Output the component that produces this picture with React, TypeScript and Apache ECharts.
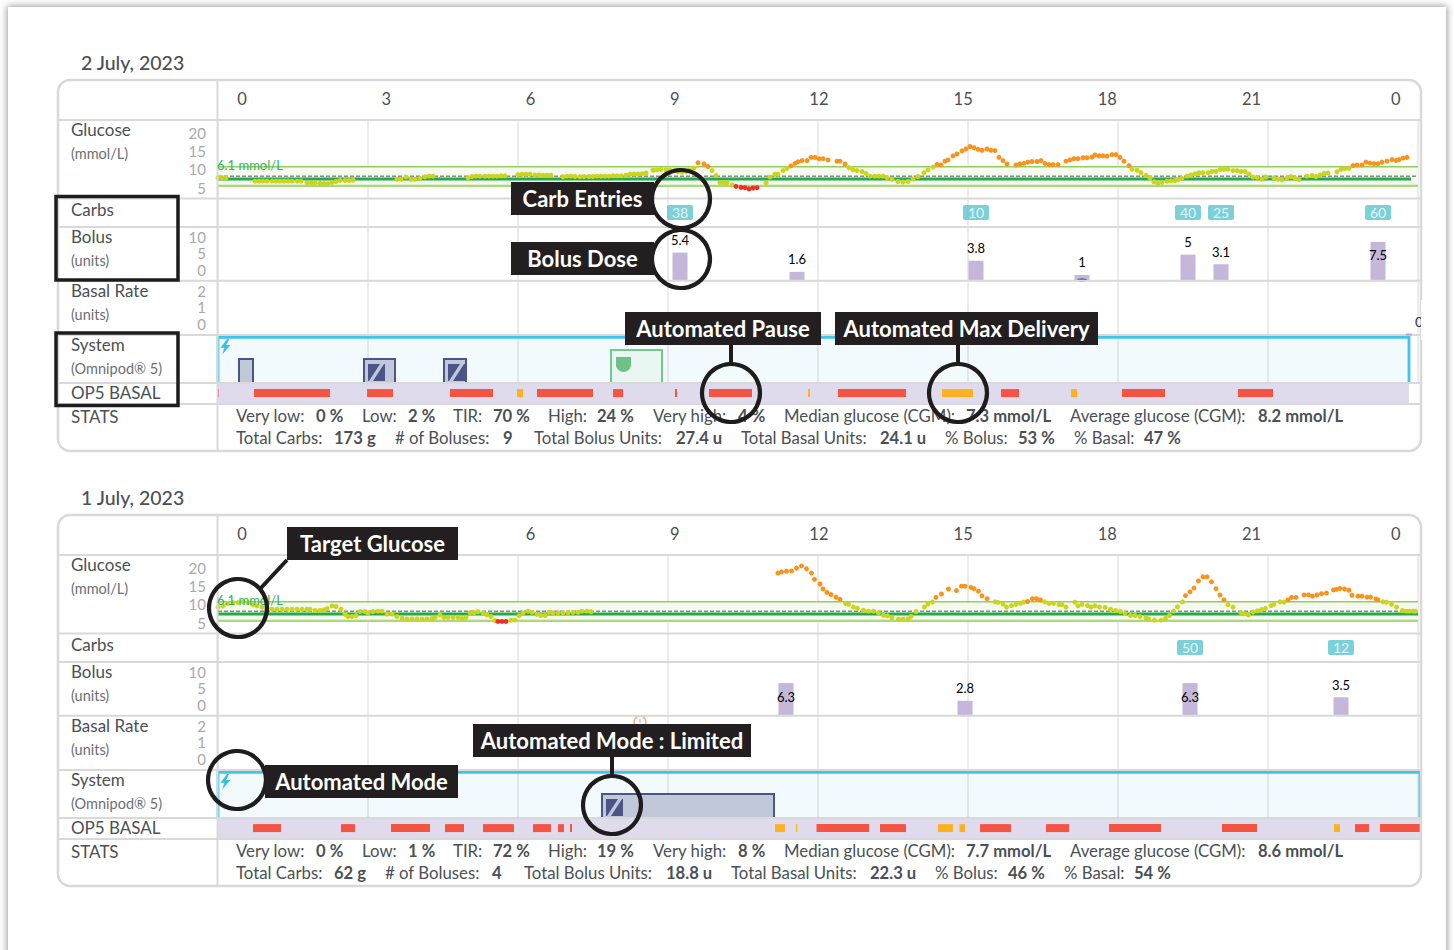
import React, { useEffect, useRef } from "react";
import * as echarts from "echarts";

const FONT = "Lato";
const hourTicksDay2 = ["0", "3", "6", "9", "12", "15", "18", "21", "0"];
const hourTicksDay1 = ["0", "", "6", "9", "12", "15", "18", "21", "0"];
const titles = ["2 July, 2023", "1 July, 2023"];
const glucoseTicks = [5, 10, 15, 20];
const targetHigh = 10;
const targetLow = 3.9;
const targetValue = 6.1;
const dashedValue = 7.0;
const targetLabel = "6.1 mmol/L";

const glucoseDay2: number[][] = [
  [0,6.5],[.08,6.5],[.16,6.5],[.74,5.4],[.82,5.4],[.9,5.4],[.98,5.4],[1.08,5.4],[1.16,5.4],[1.24,5.4],[1.32,5.4],[1.4,5.4],[1.48,5.4],[1.58,5.4],[1.66,5.4],
  [1.78,4.9],[1.86,4.9],[1.94,4.9],[2.04,4.7],[2.12,4.6],[2.2,4.6],[2.28,5],[2.36,5.3],[2.44,5.6],[2.54,5.6],[2.62,5.6],[2.7,5.7],
  [3.58,6],[3.66,6],[3.76,6.7],[3.86,6],[3.94,6],[4.04,6.3],[4.14,6.8],[4.22,7],[4.3,7],
  [5,6.5],[5.08,6.9],[5.16,7],[5.24,7],[5.34,7],[5.42,7],[5.5,7],[5.58,7],[5.66,7.1],[5.74,7.1],
  [6,7.5],[6.08,7.6],[6.16,7.6],[6.24,7.6],[6.34,7.4],[6.42,7.4],[6.5,7.3],[6.58,7.3],[6.66,7.3],
  [6.9,6.8],[6.98,7],[7.06,7],[7.14,6.9],[7.24,6.8],[7.32,6.9],[7.42,6.9],[7.5,6.9],[7.58,7],[7.66,7],[7.74,7],[7.82,7],[7.9,7.1],[7.98,7.1],[8.06,7.1],[8.16,7.3],[8.24,7.6],[8.32,7.7],[8.4,7.7],[8.48,7.8],[8.56,8],
  [8.7,8.9],[8.78,9],[8.86,9.1],[8.96,9],[9.04,8.9],[9.12,8.7],[9.2,8.5],[9.28,8.3],[9.36,8.5],[9.44,8.9],[9.52,9.6],[9.6,11.3],[9.72,10.9],[9.8,10.1],[9.88,8.8],[9.96,7.2],
  [10.04,4.9],[10.12,4.9],[10.18,4.9],[10.28,4.2],[10.36,3.7],[10.46,3.4],[10.54,3.3],[10.62,2.9],[10.7,3.2],[10.78,3.3],[10.96,4.9],[11.04,6.7],[11.14,7.6],[11.2,7.6],[11.3,8.8],[11.38,9.5],[11.46,10.3],[11.54,11.1],[11.6,11.6],[11.68,12],[11.78,12],[11.86,13],[11.94,13],
  [12.02,12.6],[12.1,12.6],[12.2,12.2],[12.38,11.8],[12.44,11.8],[12.54,10.9],[12.62,9.7],[12.7,9],[12.78,8.8],[12.88,8.5],[12.96,7.9],[13.04,7],[13.14,7],[13.22,7],[13.3,7],[13.38,6.5],[13.48,6],[13.6,5.3],[13.7,5.1],[13.8,5.3],[13.9,6.1],
  [14,6.9],[14.12,8.1],[14.2,9],[14.3,9.9],[14.38,10.8],[14.46,10.6],[14.54,11.8],[14.6,12.2],[14.7,13.5],[14.78,14.1],[14.88,15.1],[14.96,15.7],[15.04,16.5],[15.12,16.1],[15.2,15.6],[15.28,15.3],[15.38,15.7],[15.46,15.3],[15.54,15.2],[15.62,13],[15.7,12],[15.78,10.9],
  [15.96,10.6],[16.04,10.9],[16.12,11.1],[16.2,11.5],[16.28,11.7],[16.38,11.7],[16.46,12],[16.54,11.1],[16.62,10.7],[16.7,10.7],[16.8,10.7],[16.96,11.8],[17.04,12.2],[17.12,12.6],[17.2,12.6],[17.3,12.9],[17.38,12.9],[17.48,13.1],[17.54,13.8],[17.62,13.5],[17.7,13.5],[17.78,13.4],[17.88,13.9],[17.96,13.9],
  [18.04,13],[18.12,11.8],[18.22,10.4],[18.28,9.2],[18.38,8.9],[18.46,8.1],[18.56,7.2],[18.64,6.4],[18.72,5.2],[18.8,4.7],[18.88,5],[18.98,5.4],[19.06,5.5],[19.14,5.6],[19.2,5.8],[19.28,6.3],[19.38,7],[19.46,7.4],[19.54,7.8],[19.62,8.1],[19.7,8.1],[19.8,8.1],[19.88,8.5],[19.96,8.5],
  [20.04,9.1],[20.12,9.2],[20.2,9.2],[20.3,8.8],[20.38,8.8],[20.46,8.5],[20.54,8.5],[20.62,7.7],[20.7,6.7],[20.78,6.6],[20.88,6],[20.96,6.7],[21.12,6.4],[21.2,6],[21.28,5.8],[21.38,6.4],[21.46,6.8],[21.54,6.3],[21.62,5.9],[21.78,7],[21.88,7.2],[21.96,6.9],
  [22.04,7.4],[22.12,7.9],[22.2,8],[22.38,8.4],[22.46,9.2],[22.54,9.4],[22.62,9.5],[22.7,10.4],[22.78,10.6],[22.88,10.6],[22.96,11.5],[23.04,11.2],[23.12,11],[23.2,11],[23.28,11.5],[23.38,11.8],[23.48,12.3],[23.56,12],[23.62,12.3],[23.7,12.8],[23.78,13],
];

const glucoseDay1: number[][] = [
  [0,8.3],[.1,8.7],[.2,9.5],[.3,9.75],[.4,9.75],[.5,10],[.6,9.75],[.7,9],[.78,8.7],[.88,8.3],[.98,8],[1.08,7.6],[1.18,7.6],[1.28,7.6],[1.38,7.6],[1.48,7.6],[1.58,7.6],[1.68,7.6],[1.78,7.6],[1.84,7.6],[1.94,7.2],[2.04,7.2],[2.12,7.4],[2.18,7.8],[2.28,8.7],[2.36,8.5],[2.46,7.6],[2.54,6],[2.6,5.3],[2.68,5.3],[2.76,5.6],[2.84,6.9],[2.94,6.9],
  [3,6.4],[3.1,6.9],[3.2,7],[3.28,7],[3.38,6.1],[3.48,6.1],[3.58,5.3],[3.68,4.7],[3.78,4.5],[3.88,4.5],[3.98,4.5],[4.08,4.5],[4.18,4.5],[4.28,4.6],[4.34,5],[4.44,5.8],[4.52,5],[4.6,5],[4.7,5],[4.8,5],[4.88,4.6],[4.96,5],
  [5.04,6.5],[5.12,6.5],[5.2,6.8],[5.3,6.4],[5.38,5.8],[5.46,5.3],[5.54,4],[5.6,3.7],[5.68,3.7],[5.76,3.7],[5.86,4.1],[5.94,4.1],[6.02,5.5],[6.1,6.4],[6.2,7],[6.28,6.6],[6.38,6],[6.46,5.6],[6.54,5.6],[6.62,6.6],[6.7,6.4],[6.8,6.4],[6.9,6.4],[7,6.5],[7.1,6.6],[7.2,6.6],[7.28,7],[7.38,7],[7.46,6.8],
  [11.2,19.2],[11.27,19.6],[11.37,19.8],[11.47,19.9],[11.57,20.8],[11.67,21.5],[11.77,20.6],[11.87,19.2],[11.93,17.2],[12.04,15.7],[12.1,14.1],[12.18,13],[12.26,12.3],[12.36,11.5],[12.44,10.8],[12.55,9.5],[12.61,9.2],[12.71,8.3],[12.79,7.9],[12.91,7.3],
  [13.01,7],[13.11,7],[13.21,6.4],[13.31,5.7],[13.39,5.5],[13.48,4.9],[13.61,4.4],[13.7,4.4],[13.8,4.5],[13.86,5.3],[13.96,6.9],[14.13,8.3],[14.2,9.3],[14.29,9.9],[14.36,11.4],[14.47,12.5],[14.61,14.1],[14.77,13.6],[14.87,15],[14.94,15],
  [15.06,14.6],[15.12,14.2],[15.21,13.4],[15.28,11.9],[15.38,11],[15.54,10],[15.6,9.8],[15.7,9.3],[15.77,8.3],[15.87,8.8],[15.96,9.2],[16.05,9.5],[16.11,9.9],[16.19,10.1],[16.29,11],[16.37,11],[16.45,10.6],[16.53,10],[16.62,9.5],[16.71,9.5],[16.82,9.1],[16.88,9.1],
  [16.96,8.3],[17.14,9.9],[17.2,8.7],[17.28,9.2],[17.39,8.8],[17.46,8.3],[17.54,8.7],[17.63,8.3],[17.74,8.2],[17.85,7.6],[17.95,7.2],[18.05,6.9],[18.14,6.3],[18.25,5.6],[18.34,5.6],[18.44,5.3],[18.56,4.8],[18.61,4.5],[18.73,4.1],[18.86,4.1],
  [18.95,4.7],[19.03,5.6],[19.11,7],[19.19,8.4],[19.29,10],[19.35,12],[19.44,13.2],[19.52,14.4],[19.61,16.7],[19.7,18],[19.78,18],[19.87,16.4],[19.96,14.2],[20.04,12.2],[20.12,10.6],[20.2,9.1],[20.3,8.3],[20.46,6.4],[20.53,6.2],[20.61,5.8],[20.7,6.7],[20.79,7.1],
  [20.87,7.5],[20.95,7.9],[21.06,8.8],[21.12,9.2],[21.24,10],[21.32,9.9],[21.4,10.6],[21.47,11.4],[21.56,11.4],[21.72,12.2],[21.81,12.2],[21.89,11.8],[21.98,12.2],[22.07,12.6],[22.17,12.8],[22.31,13.8],[22.37,14],[22.44,14.3],[22.53,14.1],[22.62,13.7],[22.68,12.1],[22.8,11.8],
  [22.88,11.8],[22.98,11.5],[23.05,11.5],[23.16,10.9],[23.2,10.6],[23.3,10],[23.37,9.9],[23.47,9.2],[23.57,8.3],[23.69,7.2],[23.77,7],[23.83,7],[23.9,7],[23.95,7],
];

const carbsDay2 = [[9.24,38],[15.16,10],[19.4,40],[20.06,25],[23.2,60]];
const carbsDay1 = [[19.44,50],[22.46,12]];
const bolusDay2 = [[9.24,5.4],[11.58,1.6],[15.16,3.8],[17.28,1],[19.4,5],[20.06,3.1],[23.2,7.5]];
const bolusDay1 = [[11.36,6.3],[14.94,2.8],[19.44,6.3],[22.46,3.5]];
const bolusTicks = [0, 5, 10];
const basalTicks = [0, 1, 2];

const automatedDay2 = [[0,23.82,.95]];
const automatedDay1 = [[0,24.04,.95]];
const limitedDay2 = [[.42,.7,.5,0],[2.92,3.54,.5,1],[4.52,4.96,.5,1]];
const limitedDay1 = [[7.68,11.12,.5,1]];
const pauseDay2 = [[7.86,8.88,.69]];
const op5Day2 = [[0,23.82,1]];
const op5Day1 = [[0,24.04,1]];
const redDay2 = [[0,.02],[.72,2.24],[2.98,3.5],[4.64,5.5],[6.38,7.5],[7.9,8.1],[9.14,9.18],[9.82,10.68],[12.4,13.76],[15.66,16.02],[18.08,18.94],[20.4,21.1]];
const amberDay2 = [[5.98,6.1],[11.8,11.84],[14.48,15.1],[17.06,17.18]];
const redDay1 = [[.7,1.26],[2.46,2.74],[3.46,4.24],[4.54,4.92],[5.3,5.92],[6.3,6.66],[6.8,6.92],[7.04,7.08],[11.97,13.02],[13.24,13.76],[15.24,15.86],[16.56,17.02],[17.82,18.86],[20.08,20.78],[22.74,23.02],[23.24,24.04]];
const amberDay1 = [[11.14,11.34],[11.56,11.58],[14.4,14.7],[14.83,14.94],[22.32,22.44]];

const rowLabels = [
  ["Glucose", 129, 0], ["(mmol/L)", 153, 1], ["Carbs", 209, 0], ["Bolus", 236, 0], ["(units)", 260, 1],
  ["Basal Rate", 290, 0], ["(units)", 314, 1], ["System", 344, 0], ["(Omnipod® 5)", 368, 1], ["OP5 BASAL", 392, 0], ["STATS", 416, 0],
];

const statsRow1Labels = ["Very low:", "Low:", "TIR:", "High:", "Very high:", "Median glucose (CGM):", "Average glucose (CGM):"];
const statsRow1Day2 = ["0 %", "2 %", "70 %", "24 %", "4 %", "7.3 mmol/L", "8.2 mmol/L"];
const statsRow1Day1 = ["0 %", "1 %", "72 %", "19 %", "8 %", "7.7 mmol/L", "8.6 mmol/L"];
const statsRow2Labels = ["Total Carbs:", "# of Boluses:", "Total Bolus Units:", "Total Basal Units:", "% Bolus:", "% Basal:"];
const statsRow2Day2 = ["173 g", "9", "27.4 u", "24.1 u", "53 %", "47 %"];
const statsRow2Day1 = ["62 g", "4", "18.8 u", "22.3 u", "46 %", "54 %"];

const statsRow1X = [[236,316],[362,408],[453,493],[548,597],[653,738],[784,966],[1070,1258]];
const statsRow2XDay2 = [[236,334],[395,503],[534,676],[741,880],[945,1018],[1074,1144]];
const statsRow2XDay1 = [[236,334],[385,492],[524,666],[731,870],[935,1008],[1064,1134]];

const callouts: any[] = [
  ["Carb Entries", 511, 182, 143, 33],
  ["Bolus Dose", 511, 242, 143, 33],
  ["Automated Pause", 625, 312, 196, 33],
  ["Automated Max Delivery", 835, 312, 263, 33],
  ["Target Glucose", 287, 527, 171, 33],
  ["Automated Mode", 265, 765, 193, 33],
  ["Automated Mode : Limited", 473, 724, 278, 33],
];
const rings = [[681,199,29],[681,259,29],[731,393,29],[958,393,29],[238,608,29],[237,780,29],[612,805,29]];
const connectors = [[731,345,731,364],[958,345,958,364],[287,560,259,590],[612,757,612,776]];

const GRAY = "#d9d9d9";
const TEXT = "#4b5054";

echarts.graphic.registerShape("bolt", echarts.graphic.extendPath("M6 0 L0 8 L3.5 8 L1.5 14 L9 5.5 L5 5.5 L8 0 Z", {}) as any);

function dotColor(v: number) {
  if (v < targetLow) return "#ee3124";
  if (v > targetHigh) return "#f9931c";
  return "#cbd41e";
}

function spanItem(color: string, stroke: string | null, withIcon: boolean) {
  return (_: any, api: any) => {
    const a = api.coord([api.value(0), api.value(2)]);
    const b = api.coord([api.value(1), 0]);
    const children: any[] = [{
      type: "rect",
      shape: { x: a[0], y: a[1], width: b[0] - a[0], height: b[1] - a[1] },
      style: { fill: color, stroke: stroke || undefined, lineWidth: stroke ? 2 : 0 },
    }];
    if (withIcon && api.value(3)) {
      const s = 17, ix = a[0] + 4, iy = a[1] + 5;
      children.push({ type: "rect", shape: { x: ix, y: iy, width: s, height: s }, style: { fill: "#4c5488" } });
      children.push({ type: "polygon", shape: { points: [[ix + 1, iy + s], [ix + 5, iy + s], [ix + s - 1, iy], [ix + s - 5, iy]] }, style: { fill: "#c0c8da" } });
    }
    return { type: "group", children };
  };
}

function buildOption() {
  const grid: any[] = [], xAxis: any[] = [], yAxis: any[] = [], series: any[] = [], graphic: any[] = [];
  const hidden = { show: false };

  const addGrid = (o: number, top: number, height: number, yMin: number, yMax: number, yExtra: any = {}, left = 218, width = 1200, xExtra: any = {}) => {
    const i = grid.length;
    grid.push({ left, width, top: top + o, height, containLabel: false });
    xAxis.push({ type: "value", gridIndex: i, min: 0, max: 24, axisLine: hidden, axisTick: hidden, axisLabel: hidden, splitLine: hidden, ...xExtra });
    yAxis.push({ type: "value", gridIndex: i, min: yMin, max: yMax, axisLine: hidden, axisTick: hidden, axisLabel: hidden, splitLine: hidden, ...yExtra });
    return i;
  };
  const tickAxis = (o: number, top: number, height: number, ticks: number[]) =>
    addGrid(o, top, height, ticks[0], ticks[ticks.length - 1], {
      interval: ticks[1] - ticks[0],
      axisLabel: { show: true, color: "#a9a9a9", fontFamily: FONT, fontSize: 15, margin: 12, align: "right", verticalAlign: "middle", showMinLabel: true, showMaxLabel: true },
    });

  const addDay = (o: number, hourTicks: string[], glucose: number[][], carbs: number[][], bolus: number[][], auto: number[][], limited: number[][], pause: number[][], op5: number[][], red: number[][], amber: number[][], targetEnd: number) => {
    addGrid(o, 120, 263, 0, 1, {}, 218, 1200, {
      interval: 3,
      splitLine: { show: true, lineStyle: { color: "#e6e6e6", width: 1.5 } },
    });
    addGrid(o, 97.5, 1, 0, 1, {}, 242, 1153.8, {
      interval: 3,
      axisLabel: { show: true, color: TEXT, fontFamily: FONT, fontSize: 16.5, margin: 0, verticalAlign: "middle", showMinLabel: true, showMaxLabel: true, formatter: (v: number) => hourTicks[v / 3] },
    });

    const g = addGrid(o, 120, 78, 0, 25);
    const refLine = (val: number, color: string, width: number, type = "solid", end = 24) => ({
      type: "line", xAxisIndex: g, yAxisIndex: g, showSymbol: false, silent: true, z: 1,
      data: [[0, val], [end, val]], lineStyle: { color, width, type },
    });
    series.push({
      ...refLine(targetHigh, "#93cf5b", 1.6),
      markArea: { silent: true, itemStyle: { color: "#f5f9ef" }, data: [[{ yAxis: targetLow }, { yAxis: targetHigh }]] },
    });
    series.push(refLine(targetLow, "#aad87a", 2.2));
    series.push(refLine(dashedValue, "#555555", 1, "dashed"));
    series.push({ ...refLine(targetValue, "#22ab4d", 3, "solid", targetEnd), z: 2 });
    series.push({
      type: "scatter", xAxisIndex: g, yAxisIndex: g, silent: true, symbolSize: 5, z: 3, data: glucose,
      itemStyle: { color: (p: any) => dotColor(p.value[1]), opacity: 1 },
    });

    tickAxis(o, 133, 54.5, glucoseTicks);

    const c = addGrid(o, 198, 29, 0, 1);
    series.push({
      type: "scatter", xAxisIndex: c, yAxisIndex: c, silent: true, symbolSize: 1,
      itemStyle: { color: "rgba(0,0,0,0)" },
      data: carbs.map((d) => [d[0], 0.5, d[1]]),
      label: {
        show: true, position: "inside", formatter: (p: any) => String(p.value[2]),
        backgroundColor: "#5bc5d0", color: "#ffffff", fontFamily: FONT, fontSize: 14,
        width: 26, height: 15, lineHeight: 15, align: "center", verticalAlign: "middle", borderRadius: 2,
      },
    });

    const b = addGrid(o, 227, 53, 0, 10.45);
    series.push({
      type: "bar", xAxisIndex: b, yAxisIndex: b, silent: true, barWidth: 15, itemStyle: { color: "#c4b7d9" },
      data: bolus.map((d) => ({ value: d, label: d[1] >= 6 ? { position: "insideTop", distance: 7 } : { position: "top", distance: 6 } })),
      label: { show: true, color: "#000", fontFamily: FONT, fontSize: 13, formatter: (p: any) => String(p.value[1]) },
    });
    tickAxis(o, 236.5, 33, bolusTicks);
    tickAxis(o, 290.5, 33, basalTicks);

    const s = addGrid(o, 335, 48, 0, 1);
    series.push({
      type: "custom", xAxisIndex: s, yAxisIndex: s, silent: true, data: auto,
      renderItem: (_: any, api: any) => {
        const a = api.coord([api.value(0), api.value(2)]);
        const e = api.coord([api.value(1), 0]);
        return {
          type: "group",
          children: [
            { type: "rect", shape: { x: a[0], y: a[1], width: e[0] - a[0], height: e[1] - a[1] }, style: { fill: "rgba(70,185,240,0.07)" } },
            { type: "polyline", shape: { points: [[a[0], e[1]], [a[0], a[1]], [e[0], a[1]], [e[0], e[1]]] }, style: { fill: "none", stroke: "#3fc4ea", lineWidth: 2.8 } },
          ],
        };
      },
    });
    if (limited.length) series.push({ type: "custom", xAxisIndex: s, yAxisIndex: s, silent: true, data: limited, renderItem: spanItem("#c0c8da", "#4c5488", true) });
    if (pause.length) series.push({
      type: "custom", xAxisIndex: s, yAxisIndex: s, silent: true, data: pause,
      renderItem: (_: any, api: any) => {
        const a = api.coord([api.value(0), api.value(2)]);
        const e = api.coord([api.value(1), 0]);
        return {
          type: "group",
          children: [
            { type: "rect", shape: { x: a[0], y: a[1], width: e[0] - a[0], height: e[1] - a[1] }, style: { fill: "#e9f6f2", stroke: "#74c98d", lineWidth: 2 } },
            { type: "path", shape: { pathData: "M0 0 L15 0 L15 8 C15 12 11 15 7.5 15 C4 15 0 12 0 8 Z", x: a[0] + 5, y: a[1] + 7, width: 15, height: 15 }, style: { fill: "#6fc287" } },
          ],
        };
      },
    });

    const p = addGrid(o, 383, 21, 0, 1);
    series.push({ type: "custom", xAxisIndex: p, yAxisIndex: p, silent: true, data: op5, renderItem: spanItem("#dfdaec", null, false) });
    const seg = (color: string, arr: number[][]) => ({
      type: "custom", xAxisIndex: p, yAxisIndex: p, silent: true, data: arr,
      renderItem: (_: any, api: any) => {
        const a = api.coord([api.value(0), 0.71]);
        const e = api.coord([api.value(1), 0.33]);
        return { type: "rect", shape: { x: a[0], y: a[1], width: e[0] - a[0], height: e[1] - a[1] }, style: { fill: color } };
      },
    });
    series.push(seg("#f55442", red));
    series.push(seg("#fdb120", amber));
  };

  addDay(0, hourTicksDay2, glucoseDay2, carbsDay2, bolusDay2, automatedDay2, limitedDay2, pauseDay2, op5Day2, redDay2, amberDay2, 23.86);
  addDay(435, hourTicksDay1, glucoseDay1, carbsDay1, bolusDay1, automatedDay1, limitedDay1, [], op5Day1, redDay1, amberDay1, 24);

  const text = (t: string, x: number, y: number, fill: string, font: string, align = "left", z = 60) =>
    graphic.push({ type: "text", silent: true, z, style: { text: t, x, y, fill, font, align, verticalAlign: "middle", textAlign: align, textVerticalAlign: "middle" } });

  [0, 435].forEach((o, di) => {
    text(titles[di], 81, 62 + o, TEXT, `500 19.5px ${FONT}`);
    graphic.push({ type: "rect", silent: true, z: 50, shape: { x: 58, y: 80 + o, width: 1363, height: 371, r: 12 }, style: { fill: "none", stroke: GRAY, lineWidth: 2.5 } });
    graphic.push({ type: "line", silent: true, z: 50, shape: { x1: 217.5, y1: 80 + o, x2: 217.5, y2: 451 + o }, style: { stroke: GRAY, lineWidth: 2 } });
    [120, 198.5, 227, 280.7, 335, 383, 404].forEach((y) =>
      graphic.push({ type: "line", silent: true, z: 50, shape: { x1: 58, y1: y + o, x2: 1421, y2: y + o }, style: { stroke: GRAY, lineWidth: 2 } })
    );
    rowLabels.forEach(([t, y, small]: any) =>
      text(t, 71, y + o, small ? "#6b6f73" : TEXT, small ? `14.5px ${FONT}` : `17px ${FONT}`)
    );
    text(targetLabel, 217, 165 + o, "#2fb45a", `13px ${FONT}`);
    graphic.push({ type: "bolt", silent: true, z: 60, x: 220.5, y: 339 + o, scaleX: 1.1, scaleY: 1.1, style: { fill: "#35bfe8" } });
    const r1 = di ? statsRow1Day1 : statsRow1Day2;
    const r2 = di ? statsRow2Day1 : statsRow2Day2;
    const r2x = di ? statsRow2XDay1 : statsRow2XDay2;
    statsRow1Labels.forEach((l, i) => {
      text(l, statsRow1X[i][0], 415.5 + o, TEXT, `16.8px ${FONT}`);
      text(r1[i], statsRow1X[i][1], 415.5 + o, TEXT, `700 16.6px ${FONT}`);
    });
    statsRow2Labels.forEach((l, i) => {
      text(l, r2x[i][0], 437.5 + o, TEXT, `16.8px ${FONT}`);
      text(r2[i], r2x[i][1], 437.5 + o, TEXT, `700 16.6px ${FONT}`);
    });
  });

  // small marks at the day edges
  text("0", 1415, 321, "#333", `14px ${FONT}`);
  graphic.push({ type: "rect", silent: true, z: 61, shape: { x: 1421, y: 300, width: 8, height: 40 }, style: { fill: "#fff" } });
  graphic.push({ type: "rect", silent: true, z: 55, shape: { x: 1406, y: 333.5, width: 6, height: 2 }, style: { fill: "#b9a8d8" } });
  graphic.push({ type: "ellipse", silent: true, z: 40, shape: { cx: 1082, cy: 280, rx: 5, ry: 1.8 }, style: { fill: "#6a4fa3" } });
  graphic.push({ type: "circle", silent: true, z: 40, shape: { cx: 640, cy: 722, r: 6 }, style: { fill: "#fff", stroke: "#f4b27c", lineWidth: 1.5 } });
  text("!", 640, 722, "#f4b27c", `700 9px ${FONT}`, "center", 41);

  // annotation overlays
  graphic.push({ type: "rect", silent: true, z: 70, shape: { x: 56, y: 196.5, width: 122, height: 83.5 }, style: { fill: "none", stroke: "#1e1c1d", lineWidth: 3.5 } });
  graphic.push({ type: "rect", silent: true, z: 70, shape: { x: 56, y: 333, width: 122, height: 72.5 }, style: { fill: "none", stroke: "#1e1c1d", lineWidth: 3.5 } });
  connectors.forEach(([x1, y1, x2, y2]) =>
    graphic.push({ type: "line", silent: true, z: 70, shape: { x1, y1, x2, y2 }, style: { stroke: "#1e1c1d", lineWidth: 4 } })
  );
  rings.forEach(([cx, cy, r]) =>
    graphic.push({ type: "circle", silent: true, z: 71, shape: { cx, cy, r }, style: { fill: "none", stroke: "#1e1c1d", lineWidth: 4.2 } })
  );
  callouts.forEach(([t, x, y, w, h]) => {
    graphic.push({ type: "rect", silent: true, z: 72, shape: { x, y, width: w, height: h }, style: { fill: "#231f20" } });
    text(t, x + w / 2, y + h / 2, "#ffffff", `700 22px ${FONT}`, "center", 73);
  });

  return { animation: false, backgroundColor: "transparent", grid, xAxis, yAxis, series, graphic };
}

export default function App() {
  const ref = useRef<HTMLDivElement>(null);
  useEffect(() => {
    const chart = echarts.init(ref.current!, undefined, { renderer: "svg" });
    chart.setOption(buildOption() as any);
    return () => chart.dispose();
  }, []);
  return (
    <div style={{ position: "absolute", left: 0, top: 0, width: 1454, height: 950, overflow: "hidden", background: "#fff" }}>
      <div style={{ position: "absolute", left: 8, top: 7, width: 1438, height: 1000, background: "#fff", boxShadow: "0 0 7px 1px rgba(0,0,0,0.4)" }} />
      <div ref={ref} style={{ position: "absolute", left: 0, top: 0, width: 1454, height: 950 }} />
    </div>
  );
}
